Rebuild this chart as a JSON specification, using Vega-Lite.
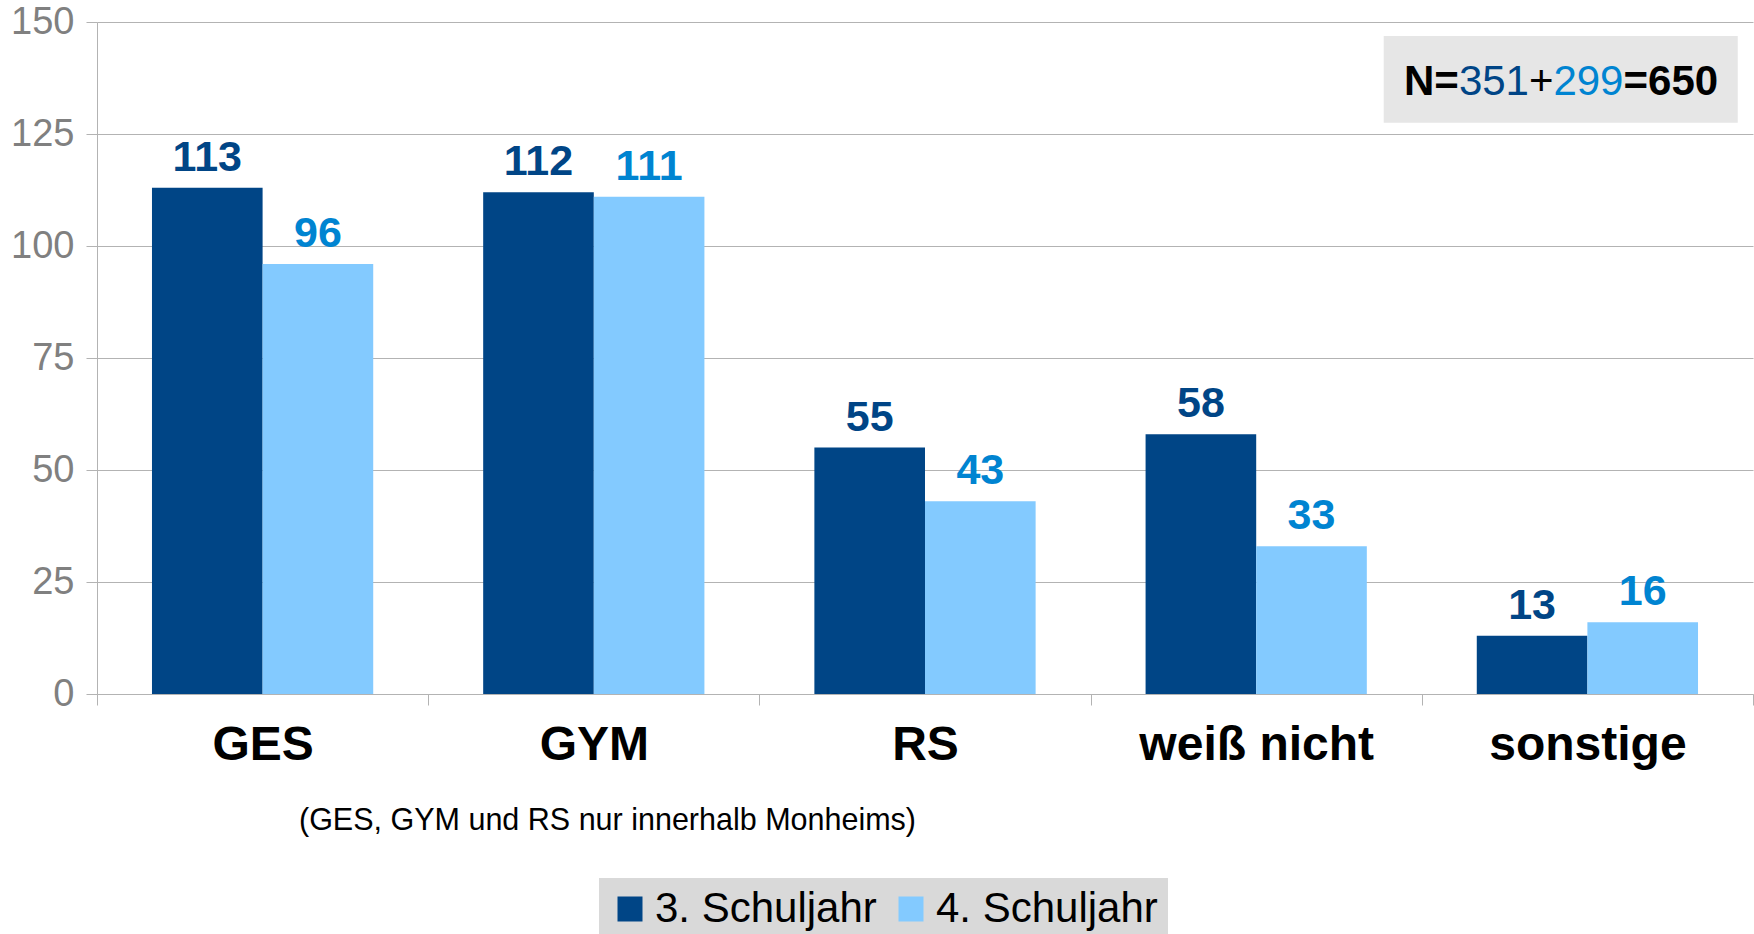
{
  "$schema": "https://vega.github.io/schema/vega-lite/v6.json",
  "width": 1656,
  "height": 672,
  "autosize": {"type": "none"},
  "padding": {"left": 97, "top": 22, "right": 1, "bottom": 240},
  "background": "white",
  "config": {
    "view": {"stroke": null},
    "font": "Liberation Sans"
  },
  "data": {
    "values": [
      {"cat": "GES", "year": "3. Schuljahr", "value": 113},
      {"cat": "GES", "year": "4. Schuljahr", "value": 96},
      {"cat": "GYM", "year": "3. Schuljahr", "value": 112},
      {"cat": "GYM", "year": "4. Schuljahr", "value": 111},
      {"cat": "RS", "year": "3. Schuljahr", "value": 55},
      {"cat": "RS", "year": "4. Schuljahr", "value": 43},
      {"cat": "weiß nicht", "year": "3. Schuljahr", "value": 58},
      {"cat": "weiß nicht", "year": "4. Schuljahr", "value": 33},
      {"cat": "sonstige", "year": "3. Schuljahr", "value": 13},
      {"cat": "sonstige", "year": "4. Schuljahr", "value": 16}
    ]
  },
  "layer": [
    {
      "mark": {"type": "bar"},
      "encoding": {
        "x": {
          "field": "cat",
          "type": "nominal",
          "scale": {"domain": ["GES", "GYM", "RS", "weiß nicht", "sonstige"], "paddingInner": 0, "paddingOuter": 0},
          "axis": {
            "title": "(GES, GYM und RS nur innerhalb Monheims)",
            "titleFont": "Liberation Sans",
            "titleFontSize": 30.5,
            "titleFontWeight": "normal",
            "titleColor": "#000000",
            "titleX": 510,
            "titleY": 126,
            "titleAlign": "center",
            "titleBaseline": "middle",
            "labelAngle": 0,
            "labelFontSize": 48,
            "labelFontWeight": "bold",
            "labelColor": "#000000",
            "labelPadding": 16,
            "labelLimit": 500,
            "tickSize": 11,
            "tickColor": "#b3b3b3",
            "domainColor": "#b3b3b3",
            "tickBand": "extent",
            "grid": false
          }
        },
        "xOffset": {"field": "year", "type": "nominal", "sort": ["3. Schuljahr", "4. Schuljahr"], "scale": {"paddingInner": 0, "paddingOuter": 0.497}},
        "y": {
          "field": "value",
          "type": "quantitative",
          "scale": {"domain": [0, 150], "nice": false},
          "axis": {
            "title": null,
            "values": [0, 25, 50, 75, 100, 125, 150],
            "labelFontSize": 38,
            "labelColor": "#808080",
            "labelPadding": 12,
            "tickSize": 11,
            "tickColor": "#b3b3b3",
            "domainColor": "#b3b3b3",
            "gridColor": "#b3b3b3",
            "grid": true
          }
        },
        "color": {
          "field": "year",
          "type": "nominal",
          "scale": {"domain": ["3. Schuljahr", "4. Schuljahr"], "range": ["#004586", "#83caff"]},
          "legend": {
            "title": null,
            "orient": "none",
            "legendX": 502,
            "legendY": 856,
            "direction": "horizontal",
            "fillColor": "#d9d9d9",
            "padding": 10,
            "labelFontSize": 42,
            "labelColor": "#000000",
            "labelFont": "Liberation Sans",
            "symbolType": "square",
            "symbolSize": 625,
            "symbolStrokeWidth": 0,
            "labelOffset": 4,
            "columnPadding": 13,
            "labelLimit": 400
          }
        }
      }
    },
    {
      "mark": {"type": "text", "baseline": "alphabetic", "align": "center", "dy": -17, "fontSize": 43, "fontWeight": "bold"},
      "encoding": {
        "x": {"field": "cat", "type": "nominal"},
        "xOffset": {"field": "year", "type": "nominal", "sort": ["3. Schuljahr", "4. Schuljahr"]},
        "y": {"field": "value", "type": "quantitative"},
        "text": {"field": "value", "type": "quantitative"},
        "color": {
          "field": "year",
          "type": "nominal",
          "scale": {"domain": ["3. Schuljahr", "4. Schuljahr"], "range": ["#004586", "#0084d1"]},
          "legend": null
        }
      }
    },
    {
      "data": {"values": [{"c": "sonstige", "top": 146.9, "bottom": 127.5}]},
      "mark": {"type": "rect", "color": "#e6e6e6"},
      "encoding": {
        "x": {"field": "c", "type": "nominal", "bandPosition": -0.115},
        "x2": {"field": "c", "bandPosition": 0.954},
        "y": {"field": "top", "type": "quantitative"},
        "y2": {"field": "bottom"}
      }
    },
    {
      "data": {"values": [{"c": "sonstige", "t": "N=", "yv": 133.7}]},
      "mark": {"type": "text", "align": "left", "baseline": "alphabetic", "fontSize": 42, "fontWeight": "bold", "color": "#000000", "dx": -157},
      "encoding": {
        "x": {"field": "c", "type": "nominal", "bandPosition": 0.42},
        "y": {"field": "yv", "type": "quantitative"},
        "text": {"field": "t"}
      }
    },
    {
      "data": {"values": [{"c": "sonstige", "t": "351", "yv": 133.7}]},
      "mark": {"type": "text", "align": "left", "baseline": "alphabetic", "fontSize": 42, "fontWeight": "normal", "color": "#004586", "dx": -102},
      "encoding": {
        "x": {"field": "c", "type": "nominal", "bandPosition": 0.42},
        "y": {"field": "yv", "type": "quantitative"},
        "text": {"field": "t"}
      }
    },
    {
      "data": {"values": [{"c": "sonstige", "t": "+", "yv": 133.7}]},
      "mark": {"type": "text", "align": "left", "baseline": "alphabetic", "fontSize": 42, "fontWeight": "normal", "color": "#000000", "dx": -32},
      "encoding": {
        "x": {"field": "c", "type": "nominal", "bandPosition": 0.42},
        "y": {"field": "yv", "type": "quantitative"},
        "text": {"field": "t"}
      }
    },
    {
      "data": {"values": [{"c": "sonstige", "t": "299", "yv": 133.7}]},
      "mark": {"type": "text", "align": "left", "baseline": "alphabetic", "fontSize": 42, "fontWeight": "normal", "color": "#0084d1", "dx": -7.5},
      "encoding": {
        "x": {"field": "c", "type": "nominal", "bandPosition": 0.42},
        "y": {"field": "yv", "type": "quantitative"},
        "text": {"field": "t"}
      }
    },
    {
      "data": {"values": [{"c": "sonstige", "t": "=650", "yv": 133.7}]},
      "mark": {"type": "text", "align": "left", "baseline": "alphabetic", "fontSize": 42, "fontWeight": "bold", "color": "#000000", "dx": 62.6},
      "encoding": {
        "x": {"field": "c", "type": "nominal", "bandPosition": 0.42},
        "y": {"field": "yv", "type": "quantitative"},
        "text": {"field": "t"}
      }
    }
  ],
  "resolve": {"scale": {"color": "independent"}}
}
